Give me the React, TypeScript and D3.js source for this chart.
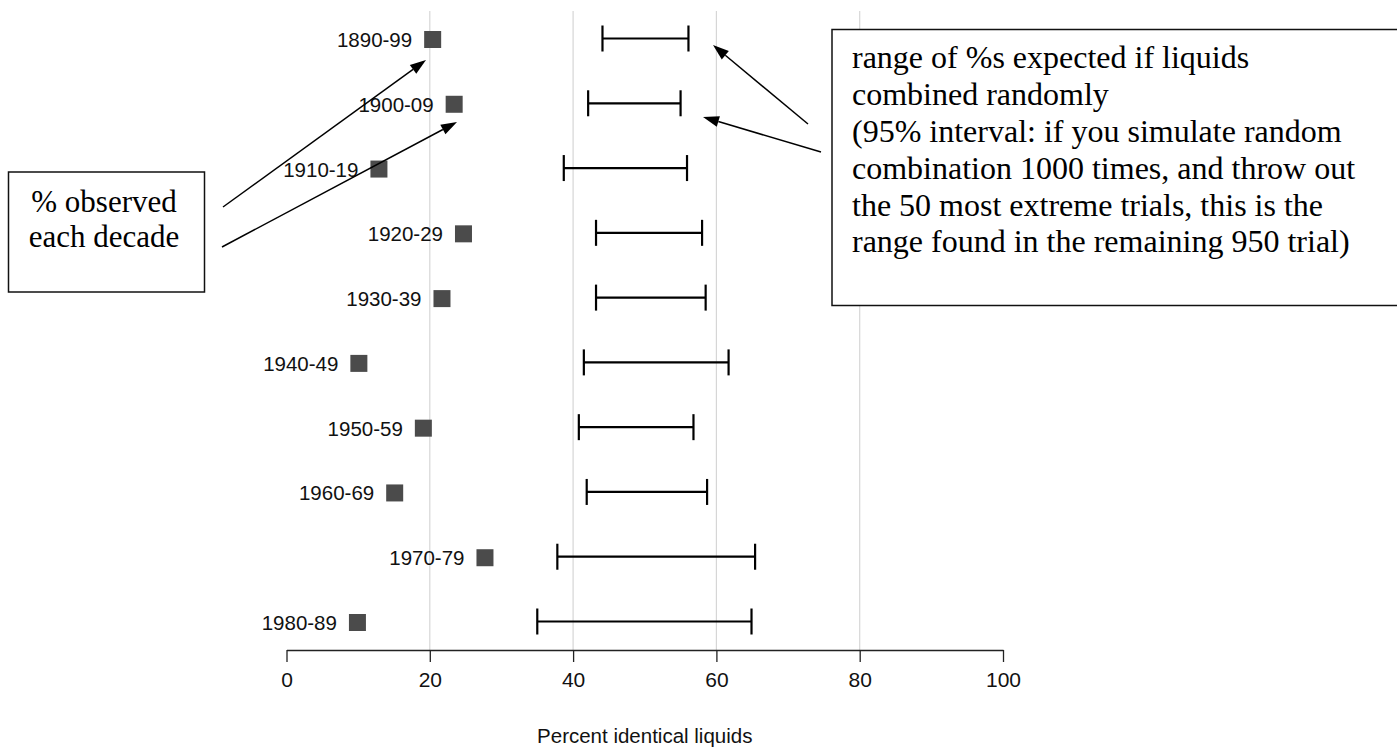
import { useEffect, useRef } from 'react';
import * as d3 from 'd3';

// decades, top to bottom
const decades = ['1890-99', '1900-09', '1910-19', '1920-29', '1930-39', '1940-49', '1950-59', '1960-69', '1970-79', '1980-89'];
// % identical liquids observed each decade
const observed = [20.4, 23.4, 12.9, 24.7, 21.7, 10.1, 19.1, 15.1, 27.7, 9.9];
// 95% interval expected under random combination
const lower = [44.1, 42.1, 38.7, 43.2, 43.2, 41.5, 40.8, 41.9, 37.8, 35.0];
const upper = [56.1, 55.0, 55.9, 58.0, 58.5, 61.7, 56.8, 58.7, 65.4, 64.9];
const xTicks = [0, 20, 40, 60, 80, 100];
const gridTicks = [20, 40, 60, 80];

const leftNote = ['% observed', 'each decade'];
const rightNote = [
  'range of %s expected if liquids',
  'combined randomly',
  '(95% interval: if you simulate random',
  'combination 1000 times, and throw out',
  'the 50 most extreme trials, this is the',
  'range found in the remaining 950 trial)'
];

const W = 1397;
const H = 747;

const App = () => {
  const svgRef = useRef<SVGSVGElement>(null);

  useEffect(() => {
    const svg = d3.select(svgRef.current);
    svg.selectAll('*').remove();

    const axisY = 650;
    const x = d3.scaleLinear().domain([0, 100]).range([286.5, 1003]);
    const y = d3.scalePoint<string>().domain(decades).range([39.5, 622.5]);

    const sans = '"Liberation Sans", Arial, sans-serif';
    const serif = '"Liberation Serif", "Times New Roman", serif';

    // gridlines
    svg.append('g')
      .selectAll('line')
      .data(gridTicks)
      .enter()
      .append('line')
      .attr('x1', d => x(d)).attr('x2', d => x(d))
      .attr('y1', 11).attr('y2', axisY)
      .attr('stroke', '#d6d6d6')
      .attr('stroke-width', 1.2);

    // x axis
    const axis = svg.append('g')
      .attr('transform', `translate(0,${axisY})`)
      .call(d3.axisBottom(x).tickValues(xTicks).tickSize(12).tickSizeOuter(0).tickPadding(10));
    axis.select('.domain').attr('stroke', '#222').attr('stroke-width', 1.3);
    axis.selectAll('.tick line').attr('stroke', '#222').attr('stroke-width', 1.3);
    axis.selectAll('.tick text')
      .attr('fill', '#111')
      .style('font-family', sans)
      .style('font-size', '21px');

    svg.append('text')
      .attr('x', (x(0) + x(100)) / 2)
      .attr('y', 743)
      .attr('text-anchor', 'middle')
      .style('font-family', sans)
      .style('font-size', '20.5px')
      .attr('fill', '#111')
      .text('Percent identical liquids');

    // error bars
    const rows = decades.map((d, i) => ({ d, obs: observed[i], lo: lower[i], hi: upper[i] }));
    const bars = svg.append('g').attr('stroke', '#000').attr('stroke-width', 2.2);
    bars.selectAll('line.span')
      .data(rows)
      .enter()
      .append('line')
      .attr('x1', r => x(r.lo)).attr('x2', r => x(r.hi))
      .attr('y1', r => y(r.d)! - 1).attr('y2', r => y(r.d)! - 1);
    bars.selectAll('line.lo')
      .data(rows)
      .enter()
      .append('line')
      .attr('x1', r => x(r.lo)).attr('x2', r => x(r.lo))
      .attr('y1', r => y(r.d)! - 14).attr('y2', r => y(r.d)! + 12);
    bars.selectAll('line.hi')
      .data(rows)
      .enter()
      .append('line')
      .attr('x1', r => x(r.hi)).attr('x2', r => x(r.hi))
      .attr('y1', r => y(r.d)! - 14).attr('y2', r => y(r.d)! + 12);

    // observed squares
    const sq = 17;
    svg.append('g')
      .selectAll('rect')
      .data(rows)
      .enter()
      .append('rect')
      .attr('x', r => x(r.obs) - sq / 2)
      .attr('y', r => y(r.d)! - sq / 2)
      .attr('width', sq)
      .attr('height', sq)
      .attr('fill', '#4b4b4b');

    // decade labels next to squares
    svg.append('g')
      .selectAll('text')
      .data(rows)
      .enter()
      .append('text')
      .attr('x', r => x(r.obs) - 20.5)
      .attr('y', r => y(r.d)! + 7.5)
      .attr('text-anchor', 'end')
      .style('font-family', sans)
      .style('font-size', '20.5px')
      .attr('fill', '#111')
      .text(r => r.d);

    // annotation boxes
    svg.append('rect')
      .attr('x', 8.5).attr('y', 172)
      .attr('width', 196).attr('height', 120)
      .attr('fill', 'none').attr('stroke', '#111').attr('stroke-width', 1.5);
    svg.append('g')
      .selectAll('text')
      .data(leftNote)
      .enter()
      .append('text')
      .attr('x', 104)
      .attr('y', (_, i) => 211.5 + i * 35)
      .attr('text-anchor', 'middle')
      .style('font-family', serif)
      .style('font-size', '31px')
      .attr('fill', '#000')
      .text(d => d);

    svg.append('rect')
      .attr('x', 832).attr('y', 29.5)
      .attr('width', 566).attr('height', 276)
      .attr('fill', 'white').attr('stroke', '#111').attr('stroke-width', 1.5);
    svg.append('g')
      .selectAll('text')
      .data(rightNote)
      .enter()
      .append('text')
      .attr('x', 852)
      .attr('y', (_, i) => 68.3 + i * 36.8)
      .style('font-family', serif)
      .style('font-size', '32px')
      .attr('fill', '#000')
      .text(d => d);

    // arrows: [tailX, tailY, tipX, tipY]
    const arrows = [
      [223, 207, 426, 60],
      [222, 247, 457, 122],
      [808, 124, 713, 45],
      [821, 152, 703, 117]
    ];
    const headLen = 16;
    const headHalf = 5.5;
    const ag = svg.append('g');
    arrows.forEach(([x1, y1, x2, y2]) => {
      const a = Math.atan2(y2 - y1, x2 - x1);
      const bx = x2 - headLen * Math.cos(a);
      const by = y2 - headLen * Math.sin(a);
      ag.append('line')
        .attr('x1', x1).attr('y1', y1).attr('x2', bx).attr('y2', by)
        .attr('stroke', '#000').attr('stroke-width', 1.5);
      const px = -Math.sin(a) * headHalf;
      const py = Math.cos(a) * headHalf;
      ag.append('path')
        .attr('d', `M${x2},${y2}L${bx + px},${by + py}L${bx - px},${by - py}Z`)
        .attr('fill', '#000');
    });
  }, []);

  return (
    <svg
      ref={svgRef}
      width={W}
      height={H}
      style={{ position: 'absolute', left: 0, top: 0, background: 'white' }}
    ></svg>
  );
};

export default App;
